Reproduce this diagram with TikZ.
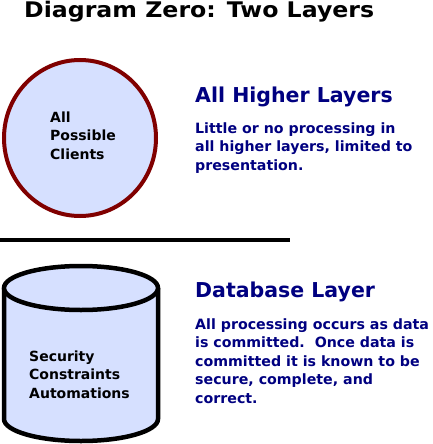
\documentclass[tikz,border=0pt]{standalone}
\usepackage{graphicx}
\usepackage{fontspec}
\setmainfont{DejaVu Sans}
\definecolor{layerfill}{RGB}{214,224,255}
\definecolor{clientedge}{RGB}{128,0,0}
\definecolor{navytext}{RGB}{0,0,128}
\begin{document}
\begin{tikzpicture}[x=1pt,y=-1pt,
  title/.style={anchor=base west,inner sep=0pt,font=\bfseries\fontsize{21.5}{24}\selectfont},
  heading/.style={anchor=base west,inner sep=0pt,text=navytext,font=\bfseries\fontsize{20.5}{24}\selectfont},
  body/.style={anchor=base west,inner sep=0pt,align=left,text=navytext,font=\bfseries\fontsize{14.2}{18.4}\selectfont},
  inner/.style={anchor=base west,inner sep=0pt,align=left,font=\bfseries\fontsize{14}{18.5}\selectfont},
  rule/.style={line width=4pt}]
\useasboundingbox (0,0) rectangle (432,444);
% title
\node[title] (title) at (24,17.5) {\scalebox{1.1}[1]{Diagram Zero: Two Layers}};
% upper layer: clients
\draw[clientedge,fill=layerfill,line width=4pt] (80,138) ellipse [x radius=76,y radius=78];
\node[inner] (clients) at (50,159) {All\\Possible\\Clients};
\node[heading] (hhigh) at (195,102) {All Higher Layers};
\node[body] (bhigh) at (195,170) {Little or no processing in\\all higher layers, limited to\\presentation.};
% separator
\coordinate (sepL) at (0,240);
\coordinate (sepR) at (290,240);
\draw[rule] (sepL) -- (sepR);
% database layer: cylinder
\draw[line width=4.5pt,fill=layerfill] (4,288) -- (4,419) arc[start angle=180,end angle=0,x radius=77,y radius=22] -- (158,288);
\draw[line width=4.5pt,fill=layerfill] (81,288) ellipse [x radius=77,y radius=22];
\node[inner] (db) at (29,398) {Security\\Constraints\\Automations};
\node[heading] (hdb) at (195,297) {Database Layer};
\node[body] (bdb) at (195,403) {All processing occurs as data\\is committed.\ \ Once data is\\committed it is known to be\\secure, complete, and\\correct.};
\end{tikzpicture}
\end{document}
